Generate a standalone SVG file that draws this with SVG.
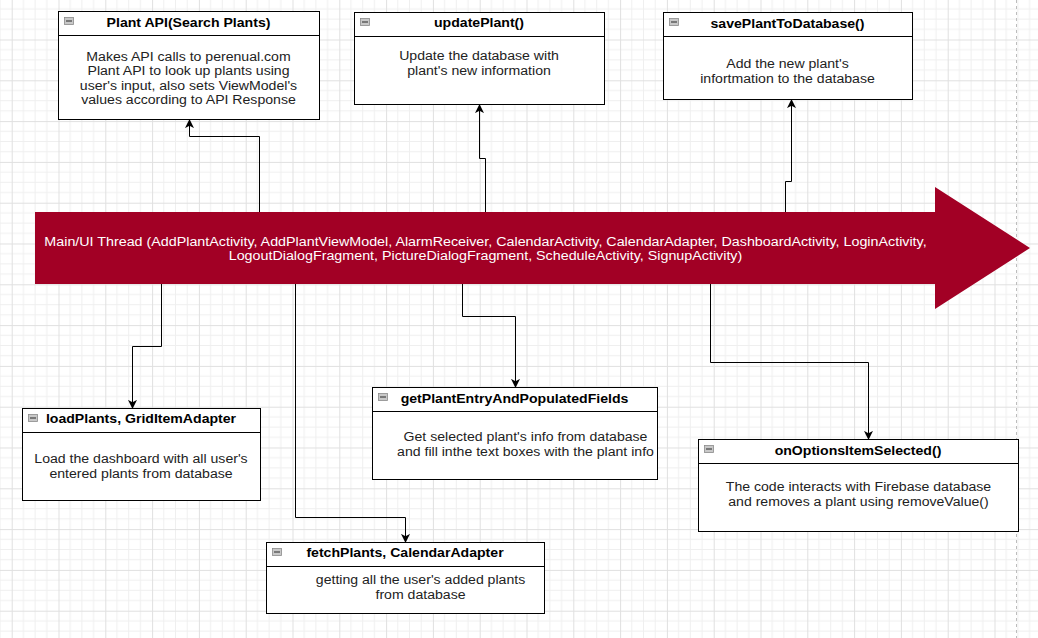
<svg xmlns="http://www.w3.org/2000/svg" width="1038" height="638" viewBox="0 0 1038 638">
  <defs>
    <pattern id="grid" patternUnits="userSpaceOnUse" x="11.7" y="-1.3" width="46.8" height="40.8">
      <path d="M11.7 0V40.8M23.4 0V40.8M35.1 0V40.8M0 10.2H46.8M0 20.4H46.8M0 30.6H46.8" stroke="#efefef" stroke-width="1" fill="none"/>
      <path d="M0.5 0V40.8M0 0.5H46.8" stroke="#e0e0e0" stroke-width="1" fill="none"/>
    </pattern>
    <marker id="arr" viewBox="0 0 10 10" refX="9" refY="5" markerWidth="9" markerHeight="9" markerUnits="userSpaceOnUse" orient="auto">
      <path d="M0 0L10 5L0 10L2.5 5Z" fill="#000"/>
    </marker>
    <style>
      .box{fill:#fff;stroke:#000;stroke-width:1}
      .sep{stroke:#000;stroke-width:1}
      .ico{fill:#c8c8c8;stroke:#8a8a8a;stroke-width:0.8}
      .icol{stroke:#444;stroke-width:1.2}
      .t{font-family:"Liberation Sans",Arial,sans-serif;font-size:12px;font-weight:bold;fill:#000;text-anchor:middle}
      .b{font-family:"Liberation Sans",Arial,sans-serif;font-size:12px;fill:#222;text-anchor:middle}
      .w{font-family:"Liberation Sans",Arial,sans-serif;font-size:12px;fill:#fff;text-anchor:middle}
      .c{fill:none;stroke:#000;stroke-width:1}
    </style>
  </defs>
  <rect x="0" y="0" width="1038" height="638" fill="#fff"/>
  <rect x="0" y="0" width="1038" height="638" fill="url(#grid)"/>
  <line x1="1016.5" y1="0" x2="1016.5" y2="638" stroke="#bdbdbd" stroke-width="1" stroke-dasharray="3 3"/>

  <g id="main-thread">
    <polygon points="35,212 935,212 935,187 1030,248 935,309 935,284 35,284" fill="#A20025"/>
    <text class="w" transform="matrix(1.192 0 0 1 485.5 0)"><tspan x="0" y="246">Main/UI Thread (AddPlantActivity, AddPlantViewModel, AlarmReceiver, CalendarActivity, CalendarAdapter, DashboardActivity, LoginActivity,</tspan><tspan x="0" y="260.4">LogoutDialogFragment, PictureDialogFragment, ScheduleActivity, SignupActivity)</tspan></text>
  </g>

  <g id="connectors">
    <path class="c" d="M259.5 212V136.5H189.5V120" marker-end="url(#arr)"/>
    <path class="c" d="M485.5 212V158.5H479.5V105" marker-end="url(#arr)"/>
    <path class="c" d="M785.5 212V181.5H791.5V100" marker-end="url(#arr)"/>
    <path class="c" d="M161.5 284V346.5H132.5V408" marker-end="url(#arr)"/>
    <path class="c" d="M295.5 284V517.5H405.5V542" marker-end="url(#arr)"/>
    <path class="c" d="M462.5 284V316.5H515.5V387" marker-end="url(#arr)"/>
    <path class="c" d="M710.5 284V362.5H868.5V439" marker-end="url(#arr)"/>
  </g>

  <g id="plant-api">
    <rect class="box" x="58.5" y="11.5" width="261" height="108"/>
    <line class="sep" x1="58.5" y1="35.5" x2="319.5" y2="35.5"/>
    <rect class="ico" x="64.5" y="17.5" width="9" height="7"/>
    <line class="icol" x1="66" y1="21" x2="72" y2="21"/>
    <text class="t" transform="matrix(1.175 0 0 1 188.5 0)" x="0" y="27.5">Plant API(Search Plants)</text>
    <text class="b" transform="matrix(1.175 0 0 1 188.5 0)"><tspan x="0" y="61">Makes API calls to perenual.com</tspan><tspan x="0" y="75.4">Plant API to look up plants using</tspan><tspan x="0" y="89.8">user's input, also sets ViewModel's</tspan><tspan x="0" y="104.2">values according to API Response</tspan></text>
  </g>

  <g id="update-plant">
    <rect class="box" x="354.5" y="12.5" width="250" height="92"/>
    <line class="sep" x1="354.5" y1="36.5" x2="604.5" y2="36.5"/>
    <rect class="ico" x="360.5" y="18.5" width="9" height="7"/>
    <line class="icol" x1="362" y1="22" x2="368" y2="22"/>
    <text class="t" transform="matrix(1.175 0 0 1 479 0)" x="0" y="27.5">updatePlant()</text>
    <text class="b" transform="matrix(1.175 0 0 1 479 0)"><tspan x="0" y="60.5">Update the database with</tspan><tspan x="0" y="74.9">plant's new information</tspan></text>
  </g>

  <g id="save-plant">
    <rect class="box" x="663.5" y="12.5" width="249" height="87"/>
    <line class="sep" x1="663.5" y1="36.5" x2="912.5" y2="36.5"/>
    <rect class="ico" x="669.5" y="18.5" width="9" height="7"/>
    <line class="icol" x1="671" y1="22" x2="677" y2="22"/>
    <text class="t" transform="matrix(1.175 0 0 1 787.5 0)" x="0" y="28">savePlantToDatabase()</text>
    <text class="b" transform="matrix(1.175 0 0 1 787.5 0)"><tspan x="0" y="68.3">Add the new plant's</tspan><tspan x="0" y="82.7">infortmation to the database</tspan></text>
  </g>

  <g id="load-plants">
    <rect class="box" x="22.5" y="408.5" width="238" height="92"/>
    <line class="sep" x1="22.5" y1="432.5" x2="260.5" y2="432.5"/>
    <rect class="ico" x="28.5" y="414.5" width="9" height="7"/>
    <line class="icol" x1="30" y1="418" x2="36" y2="418"/>
    <text class="t" transform="matrix(1.175 0 0 1 141 0)" x="0" y="423.5">loadPlants, GridItemAdapter</text>
    <text class="b" transform="matrix(1.175 0 0 1 141 0)"><tspan x="0" y="463.5">Load the dashboard with all user's</tspan><tspan x="0" y="477.9">entered plants from database</tspan></text>
  </g>

  <g id="get-plant-entry">
    <rect class="box" x="372.5" y="387.5" width="285" height="92"/>
    <line class="sep" x1="372.5" y1="411.5" x2="657.5" y2="411.5"/>
    <rect class="ico" x="378.5" y="393.5" width="9" height="7"/>
    <line class="icol" x1="380" y1="397" x2="386" y2="397"/>
    <text class="t" transform="matrix(1.175 0 0 1 514.5 0)" x="0" y="403.5">getPlantEntryAndPopulatedFields</text>
    <text class="b" transform="matrix(1.175 0 0 1 525.5 0)"><tspan x="0" y="441.5">Get selected plant's info from database</tspan><tspan x="0" y="455.9">and fill inthe text boxes with the plant info</tspan></text>
  </g>

  <g id="on-options">
    <rect class="box" x="698.5" y="439.5" width="320" height="92"/>
    <line class="sep" x1="698.5" y1="463.5" x2="1018.5" y2="463.5"/>
    <rect class="ico" x="704.5" y="445.5" width="9" height="7"/>
    <line class="icol" x1="706" y1="449" x2="712" y2="449"/>
    <text class="t" transform="matrix(1.175 0 0 1 858 0)" x="0" y="455.5">onOptionsItemSelected()</text>
    <text class="b" transform="matrix(1.175 0 0 1 858.5 0)"><tspan x="0" y="491.3">The code interacts with Firebase database</tspan><tspan x="0" y="506">and removes a plant using removeValue()</tspan></text>
  </g>

  <g id="fetch-plants">
    <rect class="box" x="266.5" y="542.5" width="278" height="71"/>
    <line class="sep" x1="266.5" y1="566.5" x2="544.5" y2="566.5"/>
    <rect class="ico" x="272.5" y="548.5" width="9" height="7"/>
    <line class="icol" x1="274" y1="552" x2="280" y2="552"/>
    <text class="t" transform="matrix(1.175 0 0 1 405 0)" x="0" y="557.5">fetchPlants, CalendarAdapter</text>
    <text class="b" transform="matrix(1.175 0 0 1 420.5 0)"><tspan x="0" y="584.5">getting all the user's added plants</tspan><tspan x="0" y="598.9">from database</tspan></text>
  </g>
</svg>
